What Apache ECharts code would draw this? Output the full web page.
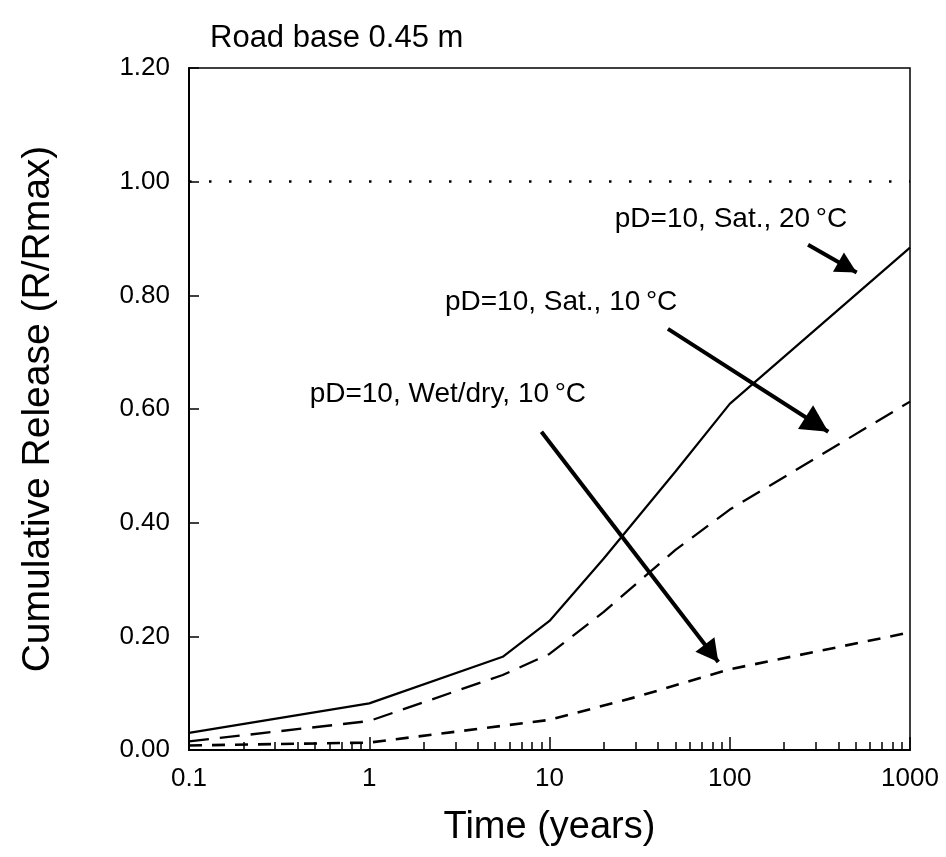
<!DOCTYPE html>
<html><head><meta charset="utf-8">
<script src="https://cdn.jsdelivr.net/npm/echarts@6/dist/echarts.min.js"></script>
<style>html,body{margin:0;padding:0;background:#fff}#c{width:946px;height:857px}</style>
</head><body><div id="c"></div>
<script>
const titleText = 'Road base 0.45 m';
const xName = 'Time (years)';
const yName = 'Cumulative Release (R/Rmax)';
const xTicks = [0.1, 1, 10, 100, 1000];
const xMinorTicks = [0.2,0.3,0.4,0.5,0.6,0.7,0.8,0.9,2,3,4,5,6,7,8,9,20,30,40,50,60,70,80,90,200,300,400,500,600,700,800,900];
const yTicks = [0, 0.2, 0.4, 0.6, 0.8, 1.0, 1.2];

const sat20Time = [0.1, 1, 5.5, 10, 20, 50, 100, 1000];
const sat20Release = [0.030, 0.082, 0.164, 0.227, 0.337, 0.490, 0.609, 0.884];
const sat10Time = [0.1, 1, 5.5, 10, 20, 50, 100, 1000];
const sat10Release = [0.015, 0.051, 0.132, 0.169, 0.243, 0.352, 0.423, 0.613];
const wet10Time = [0.1, 1, 10, 30, 100, 1000];
const wet10Release = [0.008, 0.013, 0.053, 0.093, 0.142, 0.207];

const refLevel = 1.0;
const noteTexts = ['pD=10, Sat., 20\u2009°C', 'pD=10, Sat., 10\u2009°C', 'pD=10, Wet/dry, 10\u2009°C'];
const noteAt = [[101.6, 0.933], [11.6, 0.788], [2.73, 0.626]];
const arrowFrom = [[272, 0.889], [45.4, 0.741], [9.02, 0.560]];
const arrowTo = [[506, 0.840], [352, 0.560], [86.4, 0.155]];

const FONT = 'Liberation Sans';
const zip = (xs, ys) => xs.map((x, i) => [x, ys[i]]);
const headSize = [[22, 21], [28, 27], [24, 22]];

const chart = echarts.init(document.getElementById('c'), null, {renderer: 'canvas'});
const option = {
  backgroundColor: '#fff',
  animation: false,
  title: {
    text: titleText, left: 210, top: 23, padding: 0,
    textStyle: {fontFamily: FONT, fontSize: 31, fontWeight: 'normal', color: '#000'}
  },
  grid: {left: 189, right: 36, top: 68, bottom: 107, show: true, borderColor: '#000', borderWidth: 1.5, backgroundColor: 'transparent'},
  xAxis: [{
    type: 'log', logBase: 10, min: xTicks[0], max: xTicks[xTicks.length - 1],
    name: xName, nameLocation: 'middle', nameGap: 59,
    nameTextStyle: {fontFamily: FONT, fontSize: 38, color: '#000'},
    axisLine: {lineStyle: {color: '#000', width: 2}},
    axisTick: {inside: true, length: 13, lineStyle: {color: '#000', width: 1.5}},
    axisLabel: {fontFamily: FONT, fontSize: 26, color: '#000', margin: 16,
      formatter: v => String(+v.toPrecision(6))},
    splitLine: {show: false}
  }, {
    type: 'log', logBase: 10, min: xTicks[0], max: xTicks[xTicks.length - 1], position: 'bottom',
    axisLine: {show: false},
    axisTick: {show: true, inside: true, length: 8, customValues: xMinorTicks, lineStyle: {color: '#000', width: 1.5}},
    axisLabel: {show: false},
    splitLine: {show: false}
  }],
  yAxis: {
    type: 'value', min: yTicks[0], max: yTicks[yTicks.length - 1], interval: 0.2,
    name: yName, nameLocation: 'middle', nameGap: 131,
    nameTextStyle: {fontFamily: FONT, fontSize: 39, color: '#000'},
    axisLine: {lineStyle: {color: '#000', width: 2}},
    axisTick: {inside: true, length: 10, lineStyle: {color: '#000', width: 1.5}},
    axisLabel: {fontFamily: FONT, fontSize: 26, color: '#000', margin: 19, formatter: v => v.toFixed(2)},
    splitLine: {show: false}
  },
  series: [{
    name: noteTexts[0], type: 'line', data: zip(sat20Time, sat20Release), showSymbol: false, symbol: 'none',
    lineStyle: {color: '#000', width: 2.2, type: 'solid'},
    markLine: {silent: true, symbol: 'none', label: {show: false},
      lineStyle: {color: '#000', width: 2.5, type: [2.5, 17.5]},
      data: [{yAxis: refLevel}]}
  }, {
    name: noteTexts[1], type: 'line', data: zip(sat10Time, sat10Release), showSymbol: false, symbol: 'none',
    lineStyle: {color: '#000', width: 2.3, type: [20, 11]}
  }, {
    name: noteTexts[2], type: 'line', data: zip(wet10Time, wet10Release), showSymbol: false, symbol: 'none',
    lineStyle: {color: '#000', width: 2.6, type: [13, 10]}
  }, {
    name: 'notes', type: 'line', data: [], silent: true,
    markLine: {
      silent: true, symbol: ['none', 'triangle'],
      label: {show: false},
      lineStyle: {color: '#000', width: 4, type: 'solid'},
      itemStyle: {color: '#000'},
      data: arrowFrom.map((f, i) => [
        {coord: f, symbol: 'none'},
        {coord: arrowTo[i], symbol: 'triangle', symbolSize: headSize[i], symbolOffset: [0, headSize[i][1] / 2]}
      ])
    },
    markPoint: {
      silent: true, symbol: 'circle', symbolSize: 0,
      label: {show: true, position: 'inside', fontFamily: FONT, fontSize: 28, color: '#000'},
      data: noteAt.map((c, i) => ({coord: c, label: {formatter: noteTexts[i]}}))
    }
  }]
};
chart.setOption(option);
</script>
</body></html>
